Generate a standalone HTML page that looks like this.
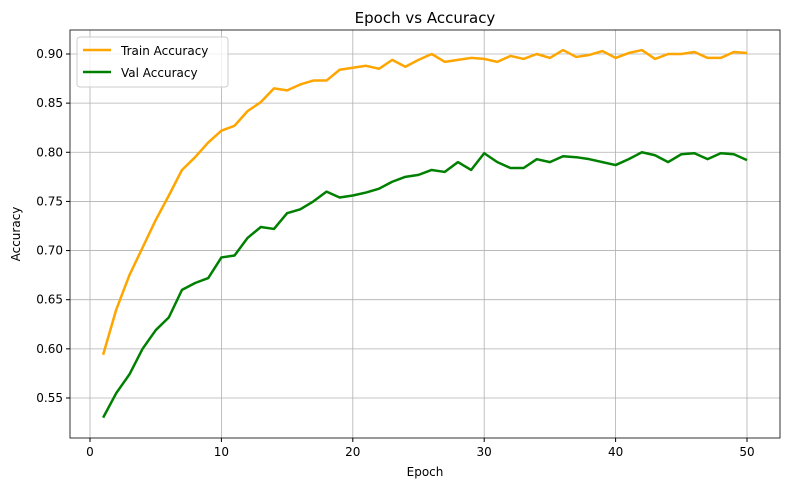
<!DOCTYPE html>
<html><head><meta charset="utf-8"><style>
html,body{margin:0;padding:0;background:#fff;}
svg{display:block;font-family:"DejaVu Sans","Liberation Sans",sans-serif;}
</style></head><body>
<svg id="chart" width="790" height="490" xmlns="http://www.w3.org/2000/svg">
<text x="425" y="23" text-anchor="middle" font-size="15">Epoch vs Accuracy</text>
<text x="425" y="476" text-anchor="middle" font-size="12">Epoch</text>
<text x="20" y="234" text-anchor="middle" font-size="12" transform="rotate(-90 20 234)">Accuracy</text>
<g id="grid"></g><g id="series"></g><g id="axes"></g>
<g>
<rect x="77" y="37" width="151" height="50" rx="3" fill="#fff" fill-opacity="0.8" stroke="#ccc"/>
<line x1="83" y1="50" x2="111" y2="50" stroke="orange" stroke-width="2.5"/>
<text x="121" y="55" font-size="12">Train Accuracy</text>
<line x1="83" y1="72" x2="111" y2="72" stroke="green" stroke-width="2.5"/>
<text x="121" y="77" font-size="12">Val Accuracy</text>
</g>
</svg>
<script>
const epochs = Array.from({length:50},(_,i)=>i+1);
const trainAcc = [0.594,0.640,0.675,0.703,0.731,0.756,0.782,0.795,0.810,0.822,0.827,0.842,0.851,0.865,0.863,0.869,0.873,0.873,0.884,0.886,0.888,0.885,0.894,0.887,0.894,0.900,0.892,0.894,0.896,0.895,0.892,0.898,0.895,0.900,0.896,0.904,0.897,0.899,0.903,0.896,0.901,0.904,0.895,0.900,0.900,0.902,0.896,0.896,0.902,0.901];
const valAcc = [0.530,0.555,0.574,0.600,0.619,0.632,0.660,0.667,0.672,0.693,0.695,0.713,0.724,0.722,0.738,0.742,0.750,0.760,0.754,0.756,0.759,0.763,0.770,0.775,0.777,0.782,0.780,0.790,0.782,0.799,0.790,0.784,0.784,0.793,0.790,0.796,0.795,0.793,0.790,0.787,0.793,0.800,0.797,0.790,0.798,0.799,0.793,0.799,0.798,0.792];
const xTicks = [0,10,20,30,40,50];
const yTicks = [0.55,0.60,0.65,0.70,0.75,0.80,0.85,0.90];
const L=70,R=780,T=30,B=438;
const x = v => 90 + v*13.14;
const y = v => 54 + (0.9 - v)/0.05*49.14;
const NS="http://www.w3.org/2000/svg";
function mk(tag,attrs,parent){const e=document.createElementNS(NS,tag);for(const k in attrs)e.setAttribute(k,attrs[k]);parent.appendChild(e);return e;}
const grid=document.getElementById('grid'),axes=document.getElementById('axes'),series=document.getElementById('series');
xTicks.forEach(t=>{
  const g=mk('line',{x1:x(t),x2:x(t),y1:T,y2:B,stroke:'#b0b0b0','stroke-width':0.8},grid);
  
  
  const tk=mk('line',{x1:x(t),x2:x(t),y1:B,y2:B+4,stroke:'#000'},axes);
  
  
  const lb=mk('text',{x:x(t),y:B+18,'text-anchor':'middle','font-size':12},axes);
  lb.textContent=t;
  
  
});
yTicks.forEach(t=>{
  const g=mk('line',{x1:L,x2:R,y1:y(t),y2:y(t),stroke:'#b0b0b0','stroke-width':0.8},grid);
  
  
  const tk=mk('line',{x1:L-4,x2:L,y1:y(t),y2:y(t),stroke:'#000'},axes);
  
  
  const lb=mk('text',{x:L-7,y:y(t)+4,'text-anchor':'end','font-size':12},axes);
  lb.textContent=t.toFixed(2);
  
  
});
const frame=mk('rect',{x:L,y:T,width:R-L,height:B-T,fill:'none',stroke:'#000','stroke-width':0.8},axes);


function line(vals,color,name){
  const p=mk('polyline',{points:vals.map((v,i)=>x(epochs[i])+','+y(v)).join(' '),fill:'none',stroke:color,'stroke-width':2.5,'stroke-linejoin':'round'},series);
  
  
}
line(trainAcc,'orange','train-accuracy-line');
line(valAcc,'green','val-accuracy-line');
</script>
</body></html>
